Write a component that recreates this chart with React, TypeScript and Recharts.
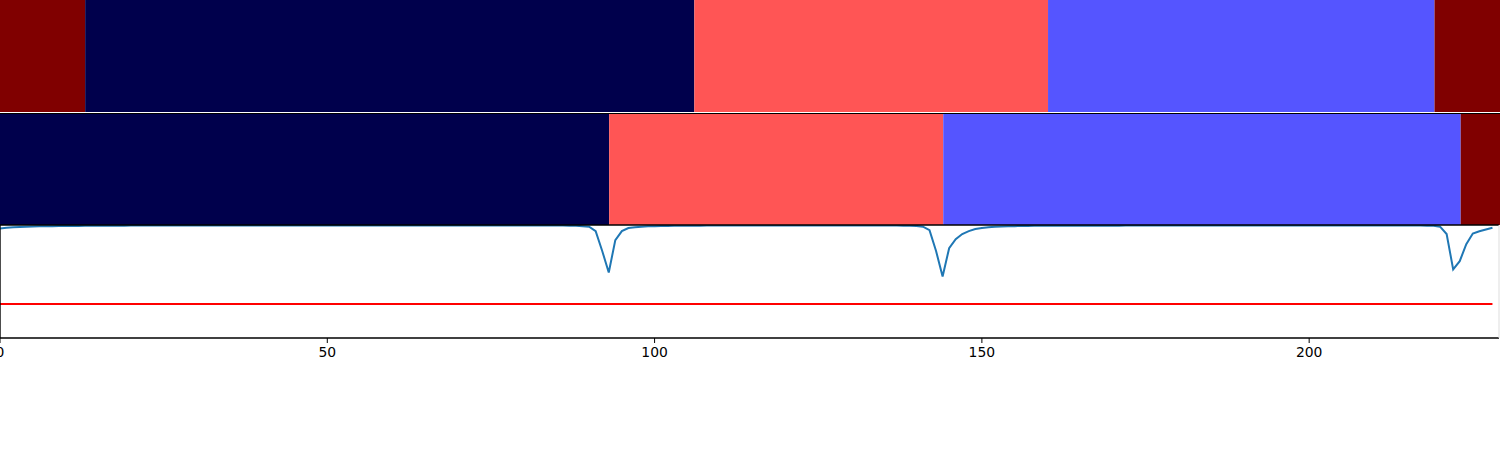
import React from 'react';
import { BarChart, Bar, LineChart, Line, XAxis, YAxis } from 'recharts';

// Hidden-state segmentations: state index per segment + segment length (in frames)
const xMax = 229;
const stateColors = ['#00004C', '#5555FF', '#FF5555', '#800000'];

const topStates = [3, 0, 2, 1, 3];
const topLengths = [13, 93, 54, 59, 10];

const bottomStates = [0, 2, 1, 3];
const bottomLengths = [93, 51, 79, 6];

// Posterior-ish confidence per frame (0..228)
const confidence = [
  0.970, 0.975, 0.980, 0.983, 0.985, 0.987, 0.988, 0.989, 0.990, 0.991,
  0.991, 0.992, 0.992, 0.993, 0.993, 0.993, 0.994, 0.994, 0.994, 0.994,
  0.995, 0.995, 0.995, 0.995, 0.996, 0.996, 0.996, 0.996, 0.996, 0.996,
  0.996, 0.996, 0.996, 0.996, 0.996, 0.996, 0.996, 0.996, 0.996, 0.996,
  0.996, 0.996, 0.996, 0.996, 0.996, 0.996, 0.996, 0.996, 0.996, 0.996,
  0.996, 0.996, 0.996, 0.996, 0.996, 0.996, 0.996, 0.996, 0.996, 0.996,
  0.996, 0.996, 0.996, 0.996, 0.996, 0.996, 0.996, 0.996, 0.996, 0.996,
  0.996, 0.996, 0.996, 0.996, 0.996, 0.996, 0.996, 0.996, 0.996, 0.996,
  0.996, 0.996, 0.996, 0.996, 0.996, 0.995, 0.995, 0.994, 0.993, 0.990,
  0.985, 0.946, 0.770, 0.580, 0.866, 0.946, 0.973, 0.980, 0.985, 0.988,
  0.990, 0.991, 0.992, 0.993, 0.993, 0.994, 0.994, 0.994, 0.995, 0.995,
  0.995, 0.995, 0.995, 0.995, 0.995, 0.995, 0.995, 0.995, 0.995, 0.995,
  0.995, 0.995, 0.995, 0.995, 0.995, 0.995, 0.995, 0.995, 0.995, 0.995,
  0.995, 0.995, 0.995, 0.995, 0.995, 0.995, 0.995, 0.995, 0.994, 0.994,
  0.992, 0.985, 0.955, 0.770, 0.545, 0.795, 0.875, 0.920, 0.946, 0.964,
  0.973, 0.980, 0.984, 0.987, 0.989, 0.990, 0.991, 0.992, 0.993, 0.993,
  0.994, 0.994, 0.994, 0.994, 0.994, 0.994, 0.994, 0.994, 0.994, 0.994,
  0.994, 0.994, 0.995, 0.995, 0.995, 0.995, 0.995, 0.995, 0.995, 0.995,
  0.995, 0.995, 0.995, 0.995, 0.995, 0.995, 0.995, 0.995, 0.995, 0.995,
  0.995, 0.995, 0.995, 0.995, 0.995, 0.995, 0.995, 0.995, 0.995, 0.995,
  0.995, 0.995, 0.995, 0.995, 0.995, 0.995, 0.995, 0.995, 0.995, 0.995,
  0.995, 0.995, 0.995, 0.995, 0.995, 0.995, 0.995, 0.995, 0.994, 0.993,
  0.985, 0.920, 0.607, 0.680, 0.830, 0.925, 0.945, 0.960, 0.975,
];
const threshold = 0.3;
const xTicks = [0, 50, 100, 150, 200];

const lineData = confidence.map((v, i) => ({ x: i, conf: v, thr: threshold }));

const segRow = (lengths: number[]) => {
  const row: Record<string, number | string> = { name: 'seq' };
  lengths.forEach((len, i) => (row[`s${i}`] = len));
  return [row];
};

const tickFont = { fill: '#000', fontSize: 13.9, fontFamily: 'DejaVu Sans, sans-serif' };
const spine = { stroke: '#000', strokeWidth: 1.4 };

function SegmentStrip({ states, lengths, top, frameTop }: { states: number[]; lengths: number[]; top: number; frameTop?: boolean }) {
  return (
    <div style={{ position: 'absolute', left: 0, top }}>
      <BarChart
        width={1500}
        height={112}
        layout="vertical"
        data={segRow(lengths)}
        margin={{ top: 0, right: 0, left: 0, bottom: 0 }}
        barCategoryGap={0}
        barGap={0}
      >
        <XAxis type="number" domain={[0, xMax]} hide allowDataOverflow />
        <YAxis type="category" dataKey="name" hide />
        {states.map((s, i) => (
          <Bar key={i} dataKey={`s${i}`} stackId="seg" fill={stateColors[s]} isAnimationActive={false} />
        ))}
      </BarChart>
      {frameTop && (
        <div style={{ position: 'absolute', left: 0, top: 0, width: 1500, height: 1, background: '#000' }} />
      )}
    </div>
  );
}

export default function App() {
  return (
    <div style={{ position: 'absolute', left: 0, top: 0, width: 1500, height: 450, background: '#fff', overflow: 'hidden' }}>
      <SegmentStrip states={topStates} lengths={topLengths} top={0} />
      <SegmentStrip states={bottomStates} lengths={bottomLengths} top={113} frameTop />

      <div style={{ position: 'absolute', left: 0, top: 0 }}>
        <LineChart width={1500} height={450} data={lineData} margin={{ top: 224, right: 0, left: -1, bottom: 82 }}>
          <XAxis
            dataKey="x"
            type="number"
            domain={[0, xMax]}
            ticks={xTicks}
            interval={0}
            tick={tickFont}
            tickSize={5}
            tickMargin={4}
            axisLine={spine}
            tickLine={{ stroke: '#000', strokeWidth: 1 }}
            height={30}
            allowDataOverflow
          />
          <XAxis xAxisId="top" orientation="top" dataKey="x" type="number" domain={[0, xMax]} tick={false} tickLine={false} axisLine={spine} height={1} />
          <YAxis type="number" domain={[0, 1]} tick={false} tickLine={false} axisLine={spine} width={1} allowDataOverflow />
          <YAxis yAxisId="right" orientation="right" type="number" domain={[0, 1]} tick={false} tickLine={false} stroke="#ddd" width={1} />
          <Line dataKey="conf" stroke="#1f77b4" strokeWidth={2} dot={false} isAnimationActive={false} />
          <Line dataKey="thr" stroke="#ff0000" strokeWidth={2} dot={false} isAnimationActive={false} />
        </LineChart>
      </div>
    </div>
  );
}
